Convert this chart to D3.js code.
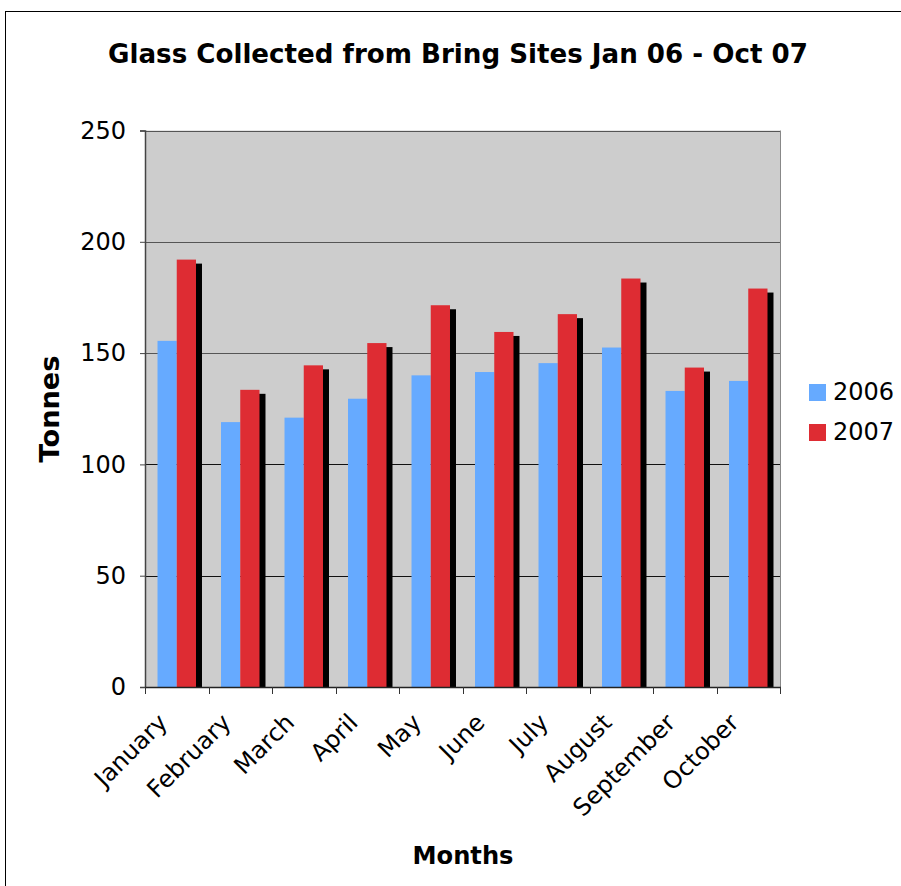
<!DOCTYPE html>
<html>
<head>
<meta charset="utf-8">
<script src="https://cdn.jsdelivr.net/npm/d3@7/dist/d3.min.js"></script>
<style>
  html, body { margin: 0; padding: 0; background: #fff; }
  svg { display: block; }
  text { font-family: "DejaVu Sans", Verdana, sans-serif; fill: #000; }
</style>
</head>
<body>
<svg id="chart" width="901" height="886"></svg>
<script>
// Monthly glass tonnage collected from bring sites
const months = ["January", "February", "March", "April", "May", "June",
                "July", "August", "September", "October"];
const seriesNames = ["2006", "2007"];
const values2006 = [155.5, 119, 121, 129.5, 140, 141.5, 145.5, 152.5, 133, 137.5];
const values2007 = [192, 133.5, 144.5, 154.5, 171.5, 159.5, 167.5, 183.5, 143.5, 179];
const yTicks = [0, 50, 100, 150, 200, 250];

const colors = { "2006": "#66aaff", "2007": "#de2c33" };

const svg = d3.select("#chart");
const W = 901, H = 886;
const plot = { left: 145, right: 780, top: 130.5, bottom: 687 };

// outer chart frame
svg.append("rect")
  .attr("x", 5.5).attr("y", 11.5)
  .attr("width", W).attr("height", H)
  .attr("fill", "#fff").attr("stroke", "#000").attr("stroke-width", 1);

const x = d3.scaleBand().domain(months).range([plot.left, plot.right]).paddingInner(0).paddingOuter(0);
const xs = d3.scaleBand().domain(seriesNames).range([0, x.bandwidth()]).paddingInner(0).paddingOuter(0.65);
const y = d3.scaleLinear().domain([0, 250]).range([plot.bottom, plot.top]);

// plot background
svg.append("rect")
  .attr("x", plot.left).attr("y", plot.top)
  .attr("width", plot.right - plot.left).attr("height", plot.bottom - plot.top)
  .attr("fill", "#cdcdcd");

// horizontal gridlines
svg.append("g").selectAll("line")
  .data(yTicks.filter(d => d > 0))
  .join("line")
  .attr("x1", plot.left).attr("x2", plot.right)
  .attr("y1", d => Math.round(y(d)) + 0.5).attr("y2", d => Math.round(y(d)) + 0.5)
  .attr("stroke", d => d >= 150 ? "#555" : "#111").attr("stroke-width", 1);

// right edge of the plot area
svg.append("line")
  .attr("x1", plot.right + 0.5).attr("x2", plot.right + 0.5)
  .attr("y1", plot.top).attr("y2", plot.bottom)
  .attr("stroke", "#888").attr("stroke-width", 1);

const rows = months.map((m, i) => ({ month: m, "2006": values2006[i], "2007": values2007[i] }));

// drop shadow behind the 2007 bars
const shadowDx = 6, shadowDy = 4;
svg.append("g").selectAll("rect")
  .data(rows)
  .join("rect")
  .attr("x", d => x(d.month) + xs("2007") + shadowDx)
  .attr("y", d => y(d["2007"]) + shadowDy)
  .attr("width", xs.bandwidth())
  .attr("height", d => y(0) - y(d["2007"]) - shadowDy)
  .attr("fill", "#000");

// bars
const groups = svg.append("g").selectAll("g")
  .data(rows)
  .join("g")
  .attr("transform", d => `translate(${x(d.month)},0)`);

groups.selectAll("rect")
  .data(d => seriesNames.map(s => ({ s, v: d[s] })))
  .join("rect")
  .attr("x", d => xs(d.s))
  .attr("y", d => y(d.v))
  .attr("width", xs.bandwidth())
  .attr("height", d => y(0) - y(d.v))
  .attr("fill", d => colors[d.s]);

// y axis
const yAxis = svg.append("g")
  .attr("transform", `translate(${plot.left},0)`)
  .call(d3.axisLeft(y).tickValues(yTicks).tickSize(5).tickPadding(14));
yAxis.select(".domain").attr("stroke", "#444").attr("stroke-width", 1.5);
yAxis.selectAll(".tick line").attr("stroke", "#444");
yAxis.selectAll(".tick text")
  .style("font-family", "'DejaVu Sans', Verdana, sans-serif")
  .style("font-size", "24px").attr("fill", "#000");

// x axis with ticks at category boundaries
const xAxisG = svg.append("g").attr("transform", `translate(0,${plot.bottom})`);
xAxisG.append("line")
  .attr("x1", plot.left).attr("x2", plot.right + 1)
  .attr("y1", 0.5).attr("y2", 0.5)
  .attr("stroke", "#222").attr("stroke-width", 1.5);
const boundaries = months.map(m => x(m)).concat([plot.right]);
xAxisG.selectAll("line.tk")
  .data(boundaries)
  .join("line").attr("class", "tk")
  .attr("x1", d => Math.round(d) + 0.5).attr("x2", d => Math.round(d) + 0.5)
  .attr("y1", 0).attr("y2", 7)
  .attr("stroke", "#333");

xAxisG.selectAll("text.lbl")
  .data(months)
  .join("text").attr("class", "lbl")
  .attr("text-anchor", "end")
  .attr("transform", m => `translate(${x(m) + x.bandwidth() / 2 - 8},${37}) rotate(-45)`)
  .style("font-size", "24px")
  .text(m => m);

// helper: fit a text element to a target width by scaling its font size
function fitText(sel, width) {
  const node = sel.node();
  const fs = parseFloat(sel.style("font-size"));
  const len = node.getComputedTextLength();
  sel.style("font-size", (fs * width / len) + "px");
}

// title
const title = svg.append("text")
  .attr("x", 458).attr("y", 63)
  .attr("text-anchor", "middle")
  .style("font-weight", "bold").style("font-size", "22px")
  .text("Glass Collected from Bring Sites Jan 06 - Oct 07");
fitText(title, 700);

// axis titles
const yTitle = svg.append("text")
  .attr("transform", "translate(59,409) rotate(-90)")
  .attr("text-anchor", "middle")
  .style("font-weight", "bold").style("font-size", "22px")
  .text("Tonnes");
fitText(yTitle, 107);

const xTitle = svg.append("text")
  .attr("x", 463).attr("y", 864)
  .attr("text-anchor", "middle")
  .style("font-weight", "bold").style("font-size", "22px")
  .text("Months");
fitText(xTitle, 101);

// legend
const legend = svg.append("g").selectAll("g")
  .data(seriesNames)
  .join("g")
  .attr("transform", (d, i) => `translate(809,${384 + i * 40})`);
legend.append("rect")
  .attr("width", 17).attr("height", 17)
  .attr("fill", d => colors[d]);
legend.append("text")
  .attr("x", 24).attr("y", 16)
  .style("font-size", "24px")
  .text(d => d);
</script>
</body>
</html>
